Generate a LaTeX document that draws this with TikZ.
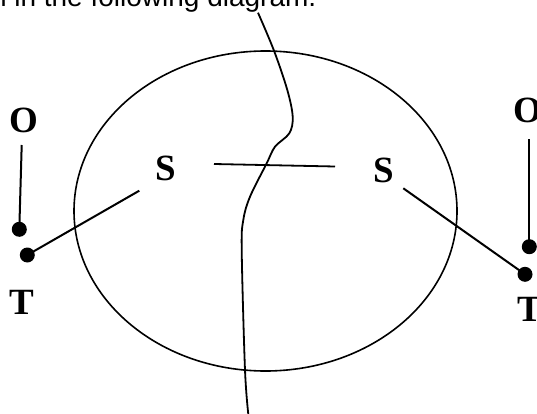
\documentclass[tikz,border=0pt]{standalone}
\usepackage{fontspec}
\usetikzlibrary{shapes.geometric}
\setmainfont{Liberation Serif}
\newfontfamily\hdrfont{Liberation Sans}
\begin{document}
\begin{tikzpicture}[x=1pt,y=-1pt,
  lbl/.style={inner sep=0pt,font=\fontsize{37}{37}\selectfont\bfseries},
  dotnode/.style={circle,fill=black,inner sep=0pt,minimum size=15pt},
  ln/.style={line width=2pt},
  hdr/.style={inner sep=0pt,anchor=base east,font=\hdrfont\fontsize{28}{28}\selectfont}]
\useasboundingbox (0,0) rectangle (537,414);
\clip (0,0) rectangle (537,414);
% header text (cut off at top)
\node[hdr] (head) at (316.5,7) {n in the following diagram.};
% ellipse
\node[draw,ellipse,line width=1.6pt,minimum width=383pt,minimum height=320pt,inner sep=0pt] (ell) at (265.5,211) {};
% labels
\node[lbl] (sL) at (166,168) {S};
\node[lbl] (sR) at (384,170) {S};
\node[lbl] (oL) at (23.5,120) {O};
\node[lbl] (tL) at (22,302) {T};
\node[lbl] (oR) at (528,110) {O};
\node[lbl] (tR) at (530,309) {T};
% dots
\node[dotnode] (dL1) at (19.3,229.3) {};
\node[dotnode] (dL2) at (27.3,255) {};
\node[dotnode] (dR1) at (529.3,246.7) {};
\node[dotnode] (dR2) at (525,274.3) {};
% free ends
\coordinate (oLb) at (21.7,145);
\coordinate (oRb) at (529.3,139.3);
\coordinate (sLe) at (139.3,190.7);
\coordinate (sRe) at (403.3,188.3);
\coordinate (hA) at (214,164);
\coordinate (hB) at (335,166.5);
% connectors
\draw[ln] (oLb) -- (dL1.center);
\draw[ln] (dL2.center) -- (sLe);
\draw[ln] (oRb) -- (dR1.center);
\draw[ln] (sRe) -- (dR2.center);
\draw[line width=1.8pt] (hA) -- (hB);
% wavy line
\draw[line width=1.8pt] plot[smooth,tension=0.55] coordinates {
  (258,12.7) (274,50.7) (287.3,90) (292.7,116.7) (289.3,133.3) (275,146.7)
  (266.7,163.3) (250,196.7) (243.3,220) (241.7,250) (245,370) (248.5,416)};
\end{tikzpicture}
\end{document}
